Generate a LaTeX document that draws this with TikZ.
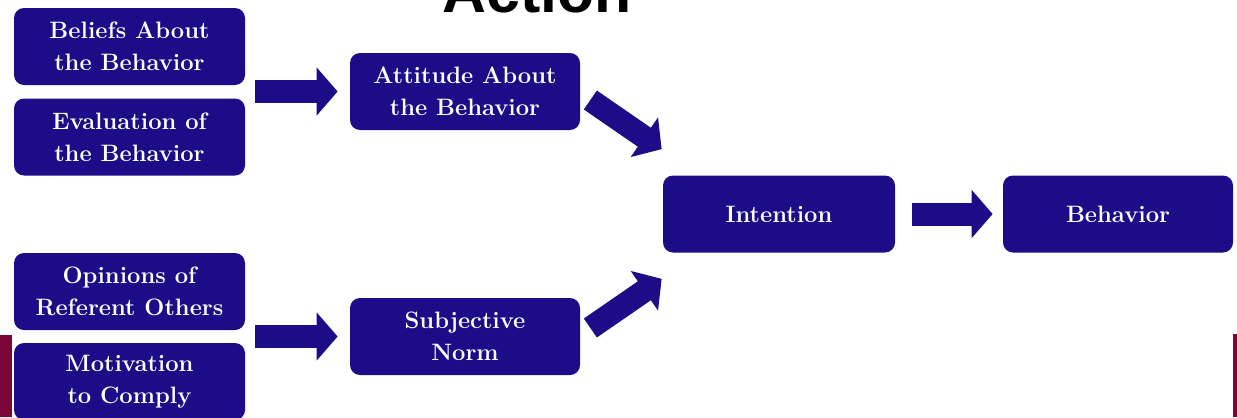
\documentclass[tikz,border=0pt]{standalone}
\usepackage{fontspec}
\usepackage{tikz}
\usetikzlibrary{arrows.meta}
\usepackage{xcolor}
\newfontfamily\titlefont{Liberation Sans}
\definecolor{TpbNavy}{HTML}{1C0C87}
\definecolor{TpbMaroon}{HTML}{7A0738}

\begin{document}
\begin{tikzpicture}[
            box/.style={rectangle, rounded corners=0.2cm, fill=TpbNavy, text=white, minimum width=4.62cm, minimum height=1.54cm, inner sep=0pt, align=center, font=\bfseries\fontsize{13.5}{18}\selectfont},
            bigarrow/.style={-{Triangle[width=0.94cm, length=0.42cm]}, line width=0.46cm, TpbNavy}
        ]
            \useasboundingbox (0,0) rectangle (24.74,-8.34);

            % Title (cut off at the top)
            \node[anchor=base, font=\titlefont\bfseries\fontsize{34.6}{40}\selectfont] (title) at (10.74,-0.24) {Action};

            % Side bars
            \fill[TpbMaroon] (0,-6.7) rectangle (0.24,-8.34);
            \fill[TpbMaroon] (24.66,-6.68) rectangle (24.74,-8.34);

            % Boxes
            \node[box] (beliefs) at (2.59,-0.93) {Beliefs About\\the Behavior};
            \node[box] (evaluation) at (2.59,-2.74) {Evaluation of\\the Behavior};
            \node[box] (opinions) at (2.59,-5.83) {Opinions of\\Referent Others};
            \node[box] (motivation) at (2.59,-7.63) {Motivation\\to Comply};
            \node[box, minimum width=4.6cm] (attitude) at (9.3,-1.83) {Attitude About\\the Behavior};
            \node[box, minimum width=4.6cm] (norm) at (9.3,-6.73) {Subjective\\Norm};
            \node[box, minimum width=4.64cm] (intention) at (15.58,-4.28) {Intention};
            \node[box, minimum width=4.6cm] (behavior) at (22.36,-4.28) {Behavior};

            % Arrows
            \draw[bigarrow, shorten <=0.2cm, shorten >=0.24cm] (attitude.west -| beliefs.east) -- (attitude.west);
            \draw[bigarrow, shorten <=0.2cm, shorten >=0.24cm] (norm.west -| opinions.east) -- (norm.west);
            \draw[bigarrow] ([shift={(0.2,-0.17)}]attitude.east) -- ([shift={(-0.02,0.52)}]intention.north west);
            \draw[bigarrow] ([shift={(0.2,0.17)}]norm.east) -- ([shift={(-0.02,-0.52)}]intention.south west);
            \draw[bigarrow, shorten <=0.34cm, shorten >=0.2cm] (intention) -- (behavior);
        \end{tikzpicture}
\end{document}
